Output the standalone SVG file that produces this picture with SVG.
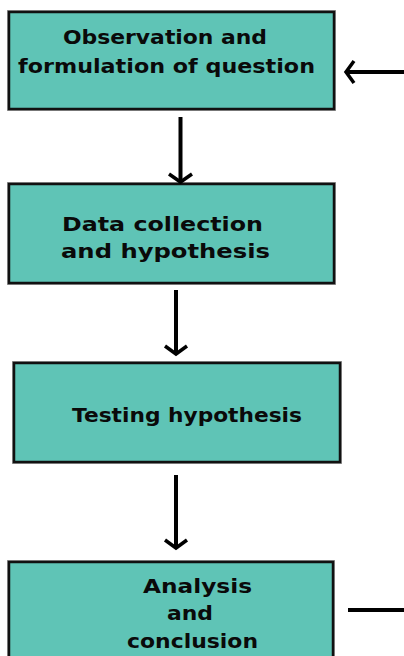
<svg xmlns="http://www.w3.org/2000/svg" width="404" height="656" viewBox="0 0 404 656">
<style>
.box{fill:#5fc4b6;stroke:#111;stroke-width:2.5}
.shadow{fill:none;stroke:#9a9a9a;stroke-width:1}
.t{font-family:"DejaVu Sans",sans-serif;font-weight:bold;font-size:20px;fill:#0a0a0a}
.c{stroke:#000;stroke-width:4;fill:none}
.h{stroke:#000;stroke-width:3.5;fill:none;stroke-linecap:butt;stroke-linejoin:miter}
</style>
<rect width="404" height="656" fill="#fff"/>
<g id="node1">
<rect class="shadow" x="7.5" y="10.5" width="328" height="100"/>
<rect class="box" x="9" y="12" width="325" height="97"/>
<text class="t" x="63" y="44" textLength="204" lengthAdjust="spacingAndGlyphs">Observation and</text>
<text class="t" x="18" y="73" textLength="297" lengthAdjust="spacingAndGlyphs">formulation of question</text>
</g>
<g id="node2">
<rect class="shadow" x="7.5" y="182.5" width="328" height="102"/>
<rect class="box" x="9" y="184" width="325" height="99"/>
<text class="t" x="62" y="231" textLength="201" lengthAdjust="spacingAndGlyphs">Data collection</text>
<text class="t" x="61" y="258" textLength="209" lengthAdjust="spacingAndGlyphs">and hypothesis</text>
</g>
<g id="node3">
<rect class="shadow" x="12.5" y="361.5" width="329" height="102"/>
<rect class="box" x="14" y="363" width="326" height="99"/>
<text class="t" x="72" y="422" textLength="230" lengthAdjust="spacingAndGlyphs">Testing hypothesis</text>
</g>
<g id="node4">
<rect class="shadow" x="7.5" y="560.5" width="327" height="110"/>
<rect class="box" x="9" y="562" width="324" height="110"/>
<text class="t" x="143" y="593" textLength="109" lengthAdjust="spacingAndGlyphs">Analysis</text>
<text class="t" x="167" y="620" textLength="46" lengthAdjust="spacingAndGlyphs">and</text>
<text class="t" x="127" y="648" textLength="131" lengthAdjust="spacingAndGlyphs">conclusion</text>
</g>
<g id="connectors">
<line class="c" x1="180.5" y1="117" x2="180.5" y2="182"/>
<polyline class="h" points="169,174 180.5,182 192,174"/>
<line class="c" x1="176" y1="290" x2="176" y2="354"/>
<polyline class="h" points="165,346 176,354 187,346"/>
<line class="c" x1="176" y1="475" x2="176" y2="548"/>
<polyline class="h" points="165,540 176,548 187,540"/>
<line class="c" x1="346" y1="72" x2="404" y2="72"/>
<polyline class="h" points="354,61 346,72 354,83"/>
<line class="c" x1="348" y1="610" x2="404" y2="610"/>
</g>
</svg>
